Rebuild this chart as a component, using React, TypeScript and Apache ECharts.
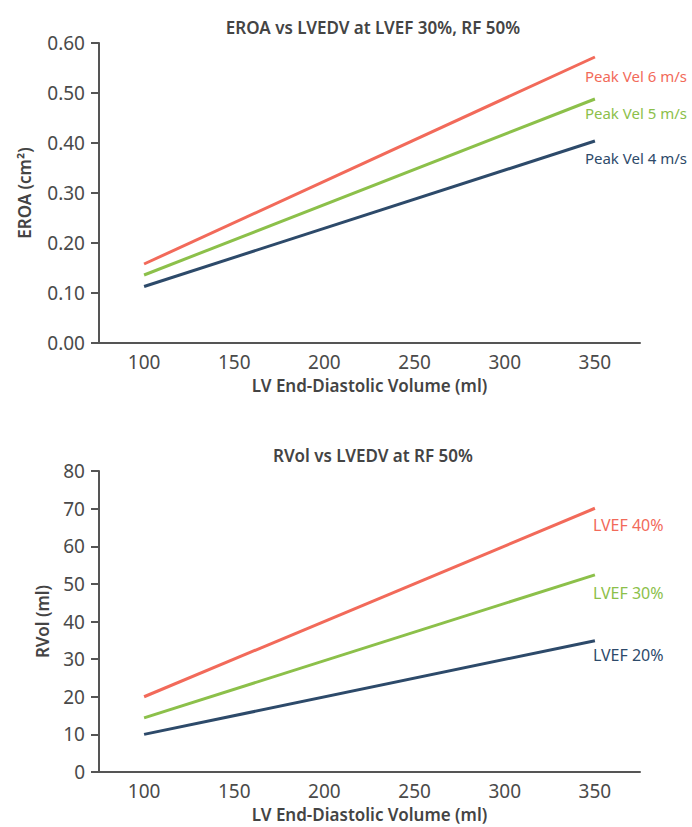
import React, { useEffect, useRef } from "react";
import * as echarts from "echarts";

const xTicks = [100, 150, 200, 250, 300, 350];
const edv = [100, 350];

const eroaNames = ["Peak Vel 6 m/s", "Peak Vel 5 m/s", "Peak Vel 4 m/s"];
const eroa6 = [0.158, 0.572];
const eroa5 = [0.136, 0.488];
const eroa4 = [0.113, 0.404];

const rvolNames = ["LVEF 40%", "LVEF 30%", "LVEF 20%"];
const rvol40 = [20, 70.1];
const rvol30 = [14.4, 52.4];
const rvol20 = [10, 34.9];

const colors = ["#f26a5a", "#8cc04a", "#2d4a6a"];
const FONT = "Noto Sans";
const TEXT = "#444";
const AXIS = "#555";

export default function App() {
  const ref = useRef<HTMLDivElement>(null);
  useEffect(() => {
    document.body.style.margin = "0";
    const chart = echarts.init(ref.current!, null, { renderer: "svg" });

    const nameStyle = { color: TEXT, fontSize: 17, fontWeight: 600, fontFamily: FONT };

    const xAxisCommon = (gridIndex: number) => ({
      type: "value",
      gridIndex,
      min: 75,
      max: 375,
      splitLine: { show: false },
      axisTick: { show: false },
      axisLine: { lineStyle: { color: AXIS, width: 2 } },
      axisLabel: {
        customValues: xTicks,
        color: "#4a4a4a",
        fontSize: 19,
        fontFamily: FONT,
        margin: 9,
      },
      name: "LV End-Diastolic Volume (ml)",
      nameLocation: "middle",
      nameGap: 34,
      nameTextStyle: nameStyle,
    });

    const lineSeries = (
      name: string,
      vals: number[],
      color: string,
      gridIdx: number,
      off: number[],
      fs: number
    ) => ({
      type: "line",
      name,
      xAxisIndex: gridIdx,
      yAxisIndex: gridIdx,
      data: edv.map((x, i) => [x, vals[i]]),
      showSymbol: false,
      symbol: "none",
      lineStyle: { color, width: 3 },
      markPoint: {
        symbol: "circle",
        symbolSize: 0,
        data: [{ coord: [edv[edv.length - 1], vals[vals.length - 1]] }],
        label: {
          show: true,
          position: "inside",
          formatter: name,
          color,
          fontSize: fs,
          fontFamily: FONT,
          align: "left",
          verticalAlign: "middle",
          offset: off,
        },
      },
    });

    chart.setOption({
      animation: false,
      title: [
        {
          text: "EROA vs LVEDV at LVEF 30%, RF 50%",
          left: 368,
          top: 14,
          textAlign: "center",
          textStyle: nameStyle,
        },
        {
          text: "RVol vs LVEDV at RF 50%",
          left: 368,
          top: 442,
          textAlign: "center",
          textStyle: nameStyle,
        },
      ],
      grid: [
        { left: 99, top: 43, width: 541, height: 300 },
        { left: 99, top: 471, width: 541, height: 301 },
      ],
      xAxis: [xAxisCommon(0), xAxisCommon(1)],
      yAxis: [
        {
          type: "value",
          gridIndex: 0,
          min: 0,
          max: 0.6,
          interval: 0.1,
          splitLine: { show: false },
          axisLine: { show: true, lineStyle: { color: AXIS, width: 2 } },
          axisTick: { show: true, length: 8, lineStyle: { color: AXIS, width: 2 } },
          axisLabel: {
            color: "#4a4a4a",
            fontSize: 19,
            fontFamily: FONT,
            margin: 14,
            formatter: (v: number) => v.toFixed(2),
          },
          name: "EROA (cm²)",
          nameLocation: "middle",
          nameGap: 66,
          nameTextStyle: nameStyle,
        },
        {
          type: "value",
          gridIndex: 1,
          min: 0,
          max: 80,
          interval: 10,
          splitLine: { show: false },
          axisLine: { show: true, lineStyle: { color: AXIS, width: 2 } },
          axisTick: { show: true, length: 8, lineStyle: { color: AXIS, width: 2 } },
          axisLabel: { color: "#4a4a4a", fontSize: 19, fontFamily: FONT, margin: 14 },
          name: "RVol (ml)",
          nameLocation: "middle",
          nameGap: 48,
          nameTextStyle: nameStyle,
        },
      ],
      series: [
        lineSeries(eroaNames[0], eroa6, colors[0], 0, [-10, 19], 15),
        lineSeries(eroaNames[1], eroa5, colors[1], 0, [-10, 14], 15),
        lineSeries(eroaNames[2], eroa4, colors[2], 0, [-10, 17], 15),
        lineSeries(rvolNames[0], rvol40, colors[0], 1, [-2, 17], 16),
        lineSeries(rvolNames[1], rvol30, colors[1], 1, [-2, 18], 16),
        lineSeries(rvolNames[2], rvol20, colors[2], 1, [-2, 14], 16),
      ],
    });
    return () => chart.dispose();
  }, []);
  return <div ref={ref} style={{ width: 692, height: 827 }} />;
}
